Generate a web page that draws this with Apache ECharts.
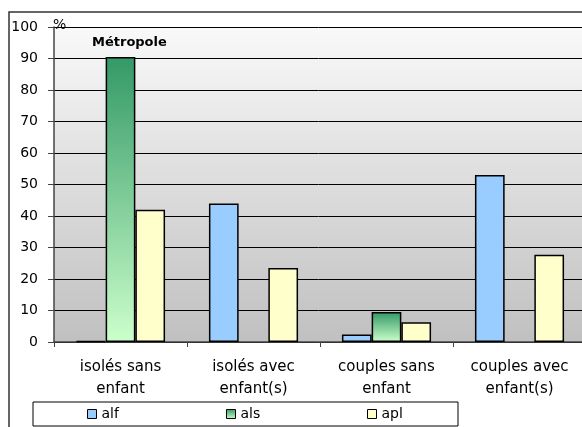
<!DOCTYPE html>
<html><head><meta charset="utf-8">
<script src="https://cdn.jsdelivr.net/npm/echarts@6/dist/echarts.min.js"></script>
<style>html,body{margin:0;padding:0;background:#fff}#c{width:582px;height:427px}</style>
</head><body><div id="c"></div>
<script>
const categories = ['isolés sans\nenfant', 'isolés avec\nenfant(s)', 'couples sans\nenfant', 'couples avec\nenfant(s)'];
const alf = [0.3, 44, 2.4, 53];
const als = [90.5, null, 9.5, null];
const apl = [42, 23.5, 6.3, 27.7];
const seriesNames = ['alf', 'als', 'apl'];
const yMin = 0, yMax = 100, yInterval = 10;

const FONT = 'DejaVu Sans';
const chart = echarts.init(document.getElementById('c'), null, {renderer: 'canvas'});
const alsGrad = new echarts.graphic.LinearGradient(0, 0, 0, 1, [{offset: 0, color: '#339966'}, {offset: 1, color: '#ccffcc'}]);
const colors = ['#99ccff', alsGrad, '#ffffcc'];
const values = [alf, als, apl];

function legendFor(i, left) {
  return {
    data: [seriesNames[i]], left: left, top: 407, padding: 0,
    itemWidth: 9, itemHeight: 9, icon: 'rect',
    itemStyle: {borderColor: '#000', borderWidth: 1},
    textStyle: {fontFamily: FONT, fontSize: 14, color: '#000'}
  };
}

chart.setOption({
  animation: false,
  backgroundColor: '#fff',
  grid: {
    left: 54, top: 27, width: 532, height: 315, show: true, borderWidth: 0,
    outerBoundsMode: 'none', containLabel: false,
    backgroundColor: new echarts.graphic.LinearGradient(0, 0, 0, 1, [{offset: 0, color: '#f9f9f9'}, {offset: 1, color: '#c0c0c0'}])
  },
  xAxis: {
    type: 'category', data: categories,
    axisLine: {lineStyle: {color: '#444', width: 1.5}},
    axisTick: {show: true, length: 5, lineStyle: {color: '#444'}},
    axisLabel: {fontFamily: FONT, fontSize: 15, color: '#000', lineHeight: 22, margin: 14, interval: 0}
  },
  yAxis: {
    type: 'value', min: yMin, max: yMax, interval: yInterval,
    axisLine: {show: true, lineStyle: {color: '#444', width: 1.5}},
    axisTick: {show: true, length: 6, lineStyle: {color: '#444'}},
    axisLabel: {fontFamily: FONT, fontSize: 14, color: '#000', margin: 16},
    splitLine: {show: true, lineStyle: {color: '#000', width: 1}}
  },
  legend: [legendFor(0, 87), legendFor(1, 226), legendFor(2, 367)],
  series: seriesNames.map((n, i) => ({
    name: n, type: 'bar', data: values[i],
    barGap: '0%', barCategoryGap: '33%',
    itemStyle: {color: colors[i], borderColor: '#000', borderWidth: 1.5}
  })),
  graphic: [
    {type: 'rect', z: 100, silent: true, shape: {x: 9, y: 12, width: 640, height: 500}, style: {fill: 'none', stroke: '#333', lineWidth: 1.5}},
    {type: 'rect', z: 100, silent: true, shape: {x: 33, y: 402, width: 425, height: 24}, style: {fill: 'none', stroke: '#000', lineWidth: 1}},
    {type: 'text', z: 100, left: 53, top: 18, style: {text: '%', fontFamily: FONT, fontSize: 14, fill: '#000'}},
    {type: 'text', z: 100, left: 92, top: 36, style: {text: 'Métropole', fontFamily: FONT, fontSize: 13, fontWeight: 'bold', fill: '#000'}}
  ]
});
</script></body></html>
